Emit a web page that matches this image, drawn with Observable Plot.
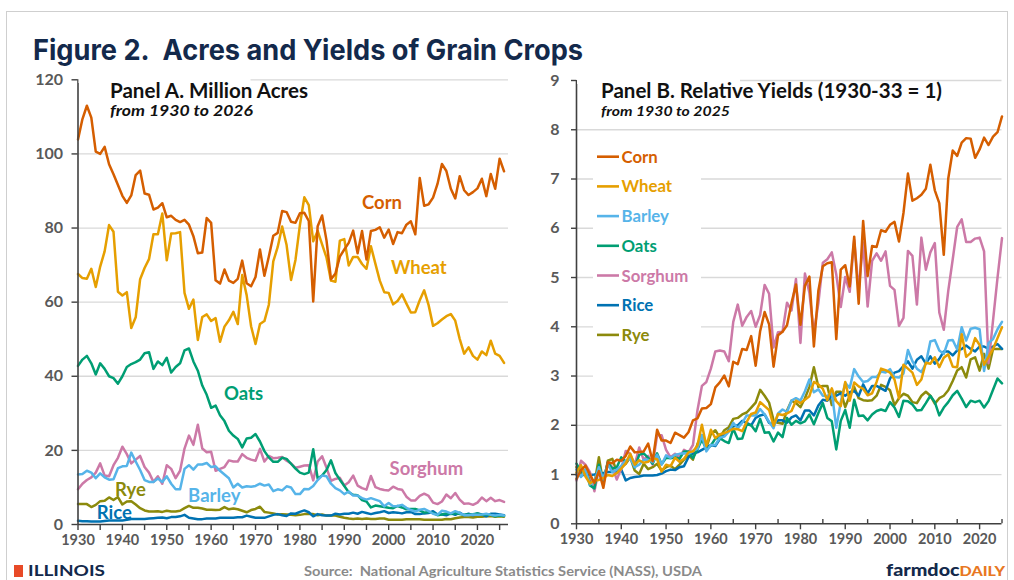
<!DOCTYPE html>
<html>
<head>
<meta charset="utf-8">
<script src="https://cdn.jsdelivr.net/npm/d3@7"></script>
<script src="https://cdn.jsdelivr.net/npm/@observablehq/plot@0.6"></script>
<style>
html,body{margin:0;padding:0;background:#fff;}
#fig{position:relative;width:1014px;height:580px;overflow:hidden;background:#fff;font-family:Lato,"Open Sans",sans-serif;}
.pane{position:absolute;top:60px;}
</style>
</head>
<body>
<div id="fig">
  <div id="paneA" class="pane" style="left:0px"></div>
  <div id="paneB" class="pane" style="left:520px"></div>
</div>
<script>
// ---------- categories ----------
const crops = ["Corn", "Wheat", "Barley", "Oats", "Sorghum", "Rice", "Rye"];
const cropColors = ["#d55e00", "#e69f00", "#56b4e9", "#009e73", "#cc79a7", "#0072b2", "#8c8a0c"];
const drawOrder = ["Rye", "Rice", "Sorghum", "Oats", "Barley", "Wheat", "Corn"];

const yearsA = d3.range(1930, 2027); // 1930..2026
const yearsB = d3.range(1930, 2026); // 1930..2025

// ---------- Panel A: planted acres, million ----------
const cornAcres = [
  103.9,109.4,113.0,109.8,100.6,100.0,101.9,97.2,94.5,91.6,
  88.7,86.8,88.8,94.3,95.5,89.3,89.0,85.0,85.5,86.7,
  82.9,83.3,82.2,81.6,82.2,80.9,77.8,73.2,73.4,82.7,
  81.4,65.9,65.0,68.8,65.8,65.2,66.3,71.2,65.1,64.3,
  66.8,74.2,67.1,72.3,77.9,78.7,84.6,84.3,81.7,81.4,
  84.0,84.1,81.9,60.2,80.5,83.4,76.6,66.2,67.7,72.3,
  74.2,76.0,79.3,73.2,79.2,71.5,79.2,79.5,80.2,77.4,
  79.6,75.7,78.9,78.6,80.9,81.8,78.3,93.5,86.0,86.4,
  88.2,91.9,97.3,95.4,90.6,88.0,94.0,90.2,88.9,89.7,
  90.7,93.3,88.6,94.6,90.6,98.7,95.3];
const wheatAcres = [
  67.6,66.5,66.3,69.0,64.1,69.6,73.7,80.8,79.0,62.8,
  61.8,62.7,53.0,55.9,66.2,69.2,71.6,78.3,78.3,83.9,
  71.3,78.5,78.6,78.9,62.5,58.2,60.7,49.8,56.0,56.7,
  54.9,55.7,49.3,53.4,55.1,57.4,54.1,67.3,61.9,53.5,
  48.7,54.1,54.9,59.3,71.0,74.9,80.4,75.4,66.0,71.4,
  80.8,88.3,86.2,76.4,79.2,75.6,72.0,65.8,65.5,76.6,
  77.0,69.9,72.2,72.2,70.3,69.0,75.1,70.4,65.8,62.7,
  62.5,59.4,60.3,62.1,59.6,57.2,57.3,60.5,63.2,59.2,
  53.6,54.3,55.3,56.2,56.8,55.0,50.1,46.1,47.8,45.5,
  44.5,46.7,45.7,49.6,46.1,45.5,43.6];
const barleyAcres = [
  13.5,13.6,14.5,14.0,12.5,13.8,12.7,12.1,12.2,15.2,
  15.7,15.8,19.4,17.0,14.7,12.0,11.5,11.5,12.4,11.5,
  13.0,11.0,9.5,9.5,15.0,16.0,14.8,16.2,16.2,16.6,
  15.5,15.7,14.5,13.5,12.5,10.0,11.0,10.0,10.3,10.2,
  10.4,11.0,10.5,10.8,9.0,9.5,9.2,10.3,10.0,8.2,
  8.2,9.6,9.5,10.4,12.0,13.2,13.0,11.0,9.8,9.2,
  8.2,8.9,7.8,7.8,7.1,6.7,7.1,6.7,6.3,4.9,
  5.8,4.9,5.0,5.3,4.5,3.9,3.5,4.0,4.2,3.6,
  2.9,2.6,3.7,3.5,3.0,3.6,3.1,2.5,2.5,2.7,
  2.6,2.7,2.9,2.6,2.4,2.6,2.4];
const oatsAcres = [
  42.8,44.5,45.5,43.5,40.5,43.5,42.0,40.0,39.5,38.0,
  40.0,42.5,43.3,43.8,44.5,46.2,46.5,42.0,44.0,43.0,
  45.0,41.0,42.5,43.5,47.0,47.5,44.0,41.5,37.5,35.0,
  31.5,32.1,29.5,27.9,25.3,24.0,23.1,20.8,23.2,23.4,
  24.4,22.4,19.8,18.1,16.9,16.9,18.0,17.7,16.4,15.1,
  14.0,13.6,14.0,20.3,12.4,13.2,14.7,17.3,13.9,12.1,
  10.4,8.7,8.0,7.9,6.6,6.2,4.6,5.1,4.9,4.7,
  4.5,4.4,5.0,4.6,4.1,4.2,4.2,3.8,3.2,3.4,
  3.1,2.5,2.7,3.0,2.8,3.1,2.8,2.6,2.7,2.8,
  3.0,2.6,2.6,2.6,2.2,2.4,2.3];
const sorghumAcres = [
  9.5,11.0,12.0,12.7,14.0,16.5,13.2,13.0,16.0,18.0,
  21.0,19.0,16.5,17.5,18.5,15.5,14.0,11.5,13.0,11.0,
  16.0,15.0,12.5,14.5,20.5,24.0,21.5,26.9,20.5,19.5,
  19.6,14.5,15.0,15.5,17.3,17.0,17.0,19.0,18.0,17.5,
  17.2,20.4,17.0,18.5,17.9,18.0,18.2,17.2,16.5,15.3,
  15.6,15.9,16.0,11.9,17.0,18.4,15.3,11.8,12.3,12.6,
  10.5,11.4,13.2,10.5,9.8,9.4,13.1,10.1,9.6,9.3,
  9.2,10.2,9.6,9.4,7.5,6.5,6.5,7.7,8.3,7.7,
  5.9,5.5,6.2,8.1,7.1,8.5,6.7,5.6,5.7,5.3,
  5.9,7.3,6.3,7.2,6.3,6.6,6.1];
const riceAcres = [
  1.0,0.9,0.9,0.8,0.8,0.8,0.95,1.1,1.1,1.05,
  1.1,1.25,1.5,1.5,1.5,1.5,1.6,1.7,1.8,1.9,
  1.7,2.0,2.0,2.2,2.6,1.8,1.6,1.4,1.45,1.6,
  1.6,1.6,1.8,1.8,1.8,1.8,1.97,1.97,2.4,2.1,
  1.8,1.8,1.8,2.2,2.6,2.8,2.5,2.3,3.0,2.9,
  3.4,3.8,3.3,2.2,2.8,2.5,2.4,2.4,2.9,2.7,
  2.9,2.9,3.2,2.9,3.4,3.1,2.8,3.1,3.3,3.6,
  3.1,3.3,3.2,3.0,3.3,3.4,2.8,2.8,3.0,3.1,
  3.6,2.7,2.7,2.5,3.0,2.6,3.2,2.5,2.9,2.5,
  3.0,2.7,2.2,2.9,2.9,2.7,2.5];
const ryeAcres = [
  5.5,5.5,5.5,4.7,5.3,6.3,6.4,7.3,6.6,7.4,
  5.4,6.2,6.3,5.4,4.4,3.8,3.5,3.5,3.6,3.4,
  3.7,3.5,3.5,3.7,4.4,5.0,4.5,4.5,4.3,4.0,
  4.0,3.9,4.0,4.7,4.1,4.3,4.1,3.7,3.3,3.9,
  4.2,4.8,3.4,3.2,3.0,2.7,2.8,2.7,2.6,2.5,
  2.6,2.8,2.8,2.8,2.5,2.7,2.4,2.4,2.4,2.1,
  1.8,1.6,1.5,1.6,1.5,1.6,1.5,1.5,1.6,1.6,
  1.3,1.3,1.3,1.3,1.4,1.4,1.4,1.4,1.3,1.3,
  1.3,1.3,1.3,1.5,1.4,1.7,1.9,2.0,2.0,1.9,
  2.1,2.1,2.2,2.3,2.1,2.2,2.1];

// ---------- Panel B: relative yields (1930-33 = 1) ----------
const cornYield = [
  0.91,1.09,1.18,1.00,0.83,1.07,0.73,1.25,1.23,1.30,
  1.28,1.38,1.57,1.45,1.46,1.47,1.63,1.27,1.91,1.69,
  1.69,1.64,1.85,1.80,1.75,1.86,2.10,2.14,2.34,2.35,
  2.43,2.77,2.87,3.01,2.79,3.29,3.24,3.55,3.53,3.81,
  3.21,3.91,4.30,4.05,3.19,3.83,3.90,4.03,4.48,4.86,
  4.04,4.83,5.02,3.60,4.73,5.23,5.29,5.31,3.75,5.16,
  5.25,4.82,5.83,4.47,6.15,5.03,5.64,5.62,5.96,5.93,
  6.07,6.13,5.73,6.31,7.11,6.56,6.61,6.68,6.80,7.29,
  6.77,6.51,5.46,7.01,7.58,7.47,7.74,7.83,7.82,7.43,
  7.60,7.84,7.69,7.86,7.95,8.27];
const wheatYield = [
  1.04,1.19,0.96,0.82,0.88,0.89,0.93,0.99,0.97,1.03,
  1.12,1.23,1.42,1.20,1.29,1.24,1.26,1.33,1.31,1.06,
  1.20,1.17,1.34,1.26,1.32,1.45,1.47,1.59,2.01,1.58,
  1.91,1.74,1.82,1.84,1.88,1.93,1.92,1.88,2.07,2.23,
  2.26,2.47,2.39,2.31,1.99,2.23,2.21,2.24,2.29,2.50,
  2.45,2.52,2.59,2.88,2.83,2.74,2.51,2.75,2.49,2.39,
  2.88,2.50,2.87,2.79,2.74,2.61,2.65,2.88,3.15,3.12,
  3.07,2.93,2.55,3.23,3.15,3.07,2.82,2.93,3.27,3.25,
  3.38,3.18,3.37,3.44,3.19,3.18,3.85,3.39,3.47,3.77,
  3.63,3.23,3.39,3.55,3.77,3.99];
const barleyYield = [
  1.10,0.95,1.10,0.80,0.85,1.15,0.90,1.20,1.05,1.10,
  1.18,1.28,1.33,1.15,1.20,1.30,1.30,1.25,1.40,1.20,
  1.39,1.34,1.40,1.42,1.43,1.42,1.48,1.52,1.80,1.47,
  1.60,1.60,1.75,1.77,1.87,2.05,1.94,2.05,2.20,2.20,
  2.20,2.33,2.22,2.07,1.94,2.24,2.32,2.27,2.50,2.55,
  2.50,2.69,2.93,2.67,2.73,2.60,2.59,2.68,1.95,2.47,
  2.86,2.76,3.14,2.99,2.88,2.90,2.98,2.98,3.09,3.07,
  3.14,2.98,2.97,3.05,3.53,3.30,3.15,3.08,3.26,3.70,
  3.73,3.52,3.45,3.72,3.73,3.54,3.99,3.72,3.96,3.98,
  3.95,3.10,3.67,3.75,3.95,4.10];
const oatsYield = [
  1.22,1.05,1.10,0.78,0.72,1.20,0.88,1.25,1.12,1.15,
  1.35,1.26,1.37,1.14,1.40,1.43,1.34,1.22,1.43,1.21,
  1.34,1.33,1.35,1.32,1.47,1.47,1.33,1.51,1.71,1.51,
  1.59,1.73,1.74,1.68,1.64,1.93,1.72,1.73,2.02,2.00,
  1.88,2.13,1.85,1.86,1.67,1.85,1.76,2.15,2.01,2.09,
  2.04,2.08,2.22,2.02,2.25,2.45,2.15,2.08,1.51,2.09,
  2.31,1.95,2.52,2.19,2.20,2.10,2.22,2.29,2.32,2.29,
  2.47,2.36,2.17,2.50,2.49,2.42,2.30,2.31,2.45,2.60,
  2.47,2.20,2.36,2.47,2.61,2.70,2.54,2.37,2.50,2.47,
  2.50,2.36,2.49,2.72,2.95,2.85];
const sorghumYield = [
  0.88,1.28,1.20,1.05,0.66,1.10,0.88,1.25,1.15,0.90,
  1.12,1.48,1.42,1.20,1.55,1.30,1.38,1.20,1.80,1.80,
  1.50,1.35,1.42,1.35,1.50,1.45,1.60,2.30,2.80,2.88,
  3.15,3.50,3.52,3.50,3.30,4.10,4.45,4.02,4.20,4.32,
  4.00,4.24,4.85,4.67,3.58,3.89,3.90,4.49,4.33,4.97,
  3.67,5.08,4.69,3.87,4.48,5.30,5.37,5.51,5.06,4.40,
  5.01,4.71,5.76,4.75,5.71,4.41,5.34,5.49,5.34,5.53,
  4.83,4.75,4.02,4.18,5.54,5.44,4.45,5.81,5.16,5.51,
  5.70,4.29,3.94,4.73,5.37,6.03,6.18,5.72,5.72,5.79,
  5.81,5.53,3.26,4.13,5.00,5.80];
const riceYield = [
  1.00,0.98,1.00,0.99,1.00,1.02,1.03,1.05,1.05,1.05,
  1.10,0.88,0.93,0.95,0.96,0.98,0.98,0.98,0.99,1.02,
  1.07,1.10,1.09,1.15,1.17,1.35,1.43,1.45,1.50,1.55,
  1.60,1.58,1.72,1.80,1.90,1.98,2.00,2.09,2.05,2.00,
  2.15,2.20,2.22,2.05,2.02,2.10,2.10,2.05,2.16,2.20,
  2.10,2.30,2.30,2.20,2.40,2.52,2.50,2.60,2.60,2.65,
  2.60,2.67,2.70,2.60,2.83,2.65,2.80,2.80,2.75,2.70,
  2.95,3.07,3.10,3.20,3.30,3.15,3.33,3.40,3.25,3.40,
  3.25,3.35,3.50,3.50,3.42,3.52,3.55,3.62,3.55,3.50,
  3.60,3.60,3.55,3.60,3.65,3.55];
const ryeYield = [
  1.15,1.00,1.08,0.88,0.81,1.35,0.81,1.28,1.32,1.05,
  1.15,1.22,1.35,1.08,1.01,1.22,1.11,1.15,1.22,1.08,
  1.15,1.18,1.11,1.20,1.30,1.40,1.30,1.62,1.80,1.55,
  1.82,1.90,1.75,1.90,1.96,2.13,2.15,2.22,2.26,2.36,
  2.46,2.72,2.60,2.46,2.10,2.05,2.03,2.30,2.50,2.45,
  2.37,2.55,2.78,3.18,2.78,2.80,2.80,2.41,2.68,2.68,
  2.37,2.60,2.78,2.55,2.51,2.50,2.51,2.60,2.82,2.78,
  2.71,2.41,2.55,2.64,2.60,2.47,2.45,2.60,2.68,2.60,
  2.44,2.55,2.60,2.71,2.90,3.11,3.18,2.97,3.34,3.38,
  3.11,3.45,3.15,3.55,3.55,3.55];

// ---------- ticks and annotation labels ----------
const acreTicks = [0, 20, 40, 60, 80, 100, 120];
const yieldTicks = [0, 1, 2, 3, 4, 5, 6, 7, 8, 9];
const decadeTicks = [1930, 1940, 1950, 1960, 1970, 1980, 1990, 2000, 2010, 2020];
const halfDecadeTicks = [1935, 1945, 1955, 1965, 1975, 1985, 1995, 2005, 2015, 2025];
const labelCrop = ["Corn", "Wheat", "Oats", "Sorghum", "Rye", "Barley", "Rice"];
const labelYear = [1998.5, 2006.8, 1967.3, 2008.5, 1941.8, 1960.7, 1938.2];
const labelAcres = [86.8, 69.1, 35.3, 15.0, 9.4, 7.6, 3.2];

// ---------- tables built from the arrays ----------
const acresSeries = [cornAcres, wheatAcres, barleyAcres, oatsAcres, sorghumAcres, riceAcres, ryeAcres];
const yieldSeries = [cornYield, wheatYield, barleyYield, oatsYield, sorghumYield, riceYield, ryeYield];
function longData(series, yrs) {
  const rows = [];
  for (const c of drawOrder) {
    const i = crops.indexOf(c);
    series[i].forEach((v, j) => rows.push({crop: c, year: yrs[j], value: v}));
  }
  return rows;
}
const dataA = longData(acresSeries, yearsA);
const dataB = longData(yieldSeries, yearsB);
const labelsA = labelCrop.map((c, i) => ({crop: c, year: labelYear[i], value: labelAcres[i]}));

const axisColor = "#404040";
const tickTextColor = "#595959";
const gridColor = "#d9d9d9";
const font = "Lato, 'Open Sans', sans-serif";

const plotA = Plot.plot({
  width: 520, height: 494,
  marginLeft: 77.5, marginRight: 12, marginTop: 19.3, marginBottom: 30,
  x: {domain: [1930, 2027]},
  y: {domain: [0, 120]},
  color: {domain: crops, range: cropColors},
  style: {fontFamily: font, background: "transparent", overflow: "visible"},
  marks: [
    Plot.gridY(acreTicks.slice(1), {stroke: gridColor, strokeOpacity: 1, strokeWidth: 1.3}),
    Plot.line(dataA, {x: "year", y: "value", z: "crop", stroke: "crop", strokeWidth: 2.5, strokeLinejoin: "round"}),
    Plot.ruleX([1930], {stroke: axisColor, strokeWidth: 1.6}),
    Plot.ruleY([0], {stroke: axisColor, strokeWidth: 1.6}),
    Plot.axisY(acreTicks, {tickSize: 6, tickPadding: 9, fontSize: 16, fontWeight: "bold", fill: tickTextColor, stroke: axisColor, strokeWidth: 1.4, label: null}),
    Plot.axisX(d3.range(1930, 2026, 5), {tickSize: 6, tickPadding: 4, tickFormat: d => d % 10 === 0 ? String(d) : "", fontSize: 14.5, fontWeight: "bold", fill: tickTextColor, stroke: axisColor, strokeWidth: 1.4, label: null}),
    Plot.text(labelsA, {x: "year", y: "value", text: "crop", fill: "crop", fontSize: 18.5, fontWeight: "bold"})
  ]
});
document.getElementById("paneA").appendChild(plotA);

const plotB = Plot.plot({
  width: 491.5, height: 494,
  marginLeft: 56, marginRight: 10, marginTop: 20, marginBottom: 30.7,
  x: {domain: [1930, 2025]},
  y: {domain: [0, 9]},
  color: {domain: crops, range: cropColors},
  style: {fontFamily: font, background: "transparent", overflow: "visible"},
  marks: [
    Plot.gridY(yieldTicks.slice(1), {stroke: gridColor, strokeOpacity: 1, strokeWidth: 1.3}),
    Plot.line(dataB, {x: "year", y: "value", z: "crop", stroke: "crop", strokeWidth: 2.5, strokeLinejoin: "round"}),
    Plot.ruleX([1930], {stroke: axisColor, strokeWidth: 1.6}),
    Plot.ruleY([0], {stroke: axisColor, strokeWidth: 1.6}),
    Plot.ruleX(halfDecadeTicks, {y1: 0, y2: 0.085, stroke: axisColor, strokeWidth: 1.4}),
    Plot.axisY(yieldTicks, {tickSize: 5, tickPadding: 12, fontSize: 16, fontWeight: "bold", fill: tickTextColor, stroke: axisColor, strokeWidth: 1.4, label: null}),
    Plot.axisX(decadeTicks, {tickSize: 6, tickPadding: 4, tickFormat: d => String(d), fontSize: 14.5, fontWeight: "bold", fill: tickTextColor, stroke: axisColor, strokeWidth: 1.4, label: null})
  ]
});
document.getElementById("paneB").appendChild(plotB);

// ---------- overlay: titles, legend, footer ----------
const ov = d3.select("#fig").append("svg")
  .attr("width", 1014).attr("height", 580)
  .style("position", "absolute").style("left", "0px").style("top", "0px")
  .style("pointer-events", "none");

ov.append("rect").attr("x", 6.5).attr("y", 11.5).attr("width", 1001).attr("height", 640)
  .attr("fill", "none").attr("stroke", "#cfcfcf").attr("stroke-width", 1);

ov.append("text").attr("x", 33).attr("y", 59.5)
  .attr("font-family", "Inter, sans-serif").attr("font-weight", 700).attr("font-size", 28)
  .attr("fill", "#13294b").attr("textLength", 550).attr("lengthAdjust", "spacingAndGlyphs")
  .text("Figure 2.\u00a0 Acres and Yields of Grain Crops");

// white strips hiding the top gridline behind the panel titles
ov.append("rect").attr("x", 78.5).attr("y", 76).attr("width", 172).attr("height", 7).attr("fill", "#fff");
ov.append("rect").attr("x", 577).attr("y", 76).attr("width", 163).attr("height", 8).attr("fill", "#fff");

const panelTitle = (x, y, t, size, italic, len) => ov.append("text").attr("x", x).attr("y", y)
  .attr("font-family", font).attr("font-weight", 700).attr("font-size", size)
  .attr("font-style", italic ? "italic" : "normal").attr("fill", "#111")
  .attr("textLength", len).attr("lengthAdjust", "spacingAndGlyphs").text(t);
panelTitle(110, 97.7, "Panel A. Million Acres", 20, false, 198);
panelTitle(110, 115.7, "from 1930 to 2026", 15.5, true, 143);
panelTitle(601, 98.3, "Panel B. Relative Yields (1930-33 = 1)", 20, false, 341);
panelTitle(601, 115.7, "from 1930 to 2025", 14, true, 129);

// legend of panel B
ov.append("rect").attr("x", 593).attr("y", 140).attr("width", 108).attr("height", 245).attr("fill", "#fff");
crops.forEach((c, i) => {
  const y = 156.7 + i * 29.7;
  ov.append("line").attr("x1", 597).attr("x2", 619).attr("y1", y).attr("y2", y)
    .attr("stroke", cropColors[i]).attr("stroke-width", 2.6);
  ov.append("text").attr("x", 621.5).attr("y", y).attr("dy", "0.36em")
    .attr("font-family", font).attr("font-weight", 700).attr("font-size", 16.8)
    .attr("fill", cropColors[i]).text(c);
});

// footer
ov.append("rect").attr("x", 14).attr("y", 565).attr("width", 9).attr("height", 12).attr("fill", "#e84a27");
ov.append("text").attr("x", 28).attr("y", 576).attr("font-family", font).attr("font-weight", 700)
  .attr("font-size", 15).attr("fill", "#13294b").attr("textLength", 77).attr("lengthAdjust", "spacingAndGlyphs").text("ILLINOIS");
ov.append("text").attr("x", 304).attr("y", 576).attr("font-family", font).attr("font-weight", 700)
  .attr("font-size", 13.5).attr("fill", "#8a8a8a").attr("textLength", 398).attr("lengthAdjust", "spacingAndGlyphs")
  .text("Source:\u00a0 National Agriculture Statistics Service (NASS), USDA");
const fd = ov.append("text").attr("x", 886).attr("y", 576).attr("font-family", font).attr("font-weight", 900)
  .attr("textLength", 119).attr("lengthAdjust", "spacingAndGlyphs");
fd.append("tspan").attr("font-size", 16).attr("fill", "#13294b").text("farmdoc");
fd.append("tspan").attr("font-size", 13).attr("fill", "#e87722").text("DAILY");
</script>
</body>
</html>
